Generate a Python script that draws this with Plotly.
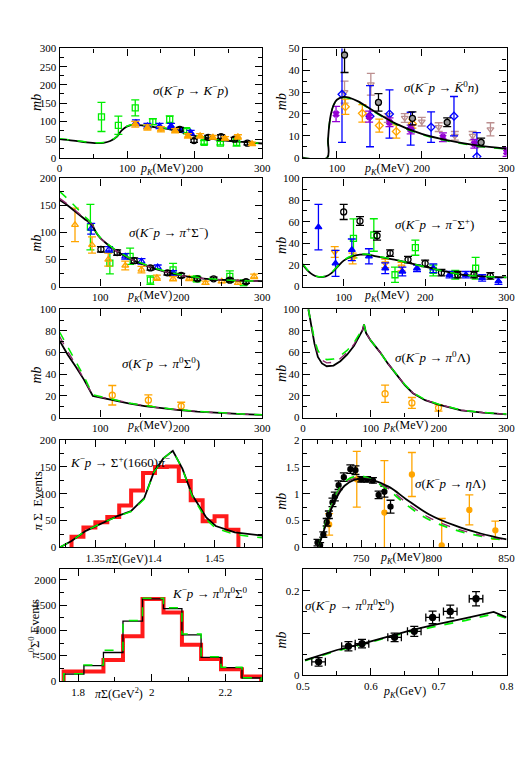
import plotly.graph_objects as go

FONT = "Liberation Serif"
W, H = 526, 761

# ---------------- data ----------------
# (a) K-p -> K-p
kp_x = [0, 20, 40, 55, 65, 75, 85, 92, 100, 110, 125, 140, 160, 180, 200, 220, 240, 260, 280, 300]
kp_black = [51, 47, 42, 40, 41, 46, 58, 75, 86, 90, 88, 84, 79, 70, 60, 54, 48, 45, 42, 39]
kp_green = [52, 48, 43, 41, 42, 47, 59, 76, 87, 91, 89, 85, 80, 71, 61, 55, 49, 45, 42, 39]
kp_sq_x = [62, 87, 112, 138, 163, 188, 214, 238, 262]
kp_sq_y = [112, 89, 137, 99, 105, 74, 42, 40, 42]
kp_sq_e = [40, 25, 22, 8, 10, 6, 5, 5, 10]
kp_bl_x = [113, 130, 148, 165, 178, 194]
kp_bl_y = [96, 87, 87, 87, 76, 69]
kp_bl_e = [8, 7, 7, 7, 6, 6]
kp_or_x = [112, 130, 150, 171, 190, 208, 227, 245, 264, 285]
kp_or_y = [92, 83, 78, 74, 60, 60, 56, 53, 57, 38]
kp_or_e = [8, 7, 7, 6, 6, 6, 5, 5, 6, 5]
kp_ci_x = [178, 199, 220, 239, 259, 278]
kp_ci_y = [78, 47, 56, 58, 51, 40]
kp_ci_e = [5, 5, 5, 5, 5, 5]

# (b) K-p -> K0bar n
k0_x = [60, 88.5, 89.5, 91, 93, 96, 100, 108, 115, 125, 143, 170, 200, 231, 265, 300]
k0_black = [0, 0, 8, 15, 20, 24, 26.5, 27.8, 27.4, 25.8, 21.5, 15.5, 10.9, 7.9, 5.6, 4.1]
k0_green = [0, 0, 8, 15, 20, 24, 26.3, 27.5, 27.1, 25.5, 21.2, 15.2, 10.6, 7.6, 5.4, 3.9]
k0_ci_x = [109, 149, 189, 230, 270]
k0_ci_y = [47, 25.3, 18, 16.2, 7]
k0_ci_e = [8, 4, 3, 2, 2]
k0_di_x = [106, 139, 162, 187, 211, 238, 265]
k0_di_y = [29, 19, 20, 13.3, 14, 19, 0.5]
k0_di_e = [22, 14, 11, 7.5, 7, 9, 11]
k0_od_x = [110, 130, 150, 170, 189]
k0_od_y = [23.3, 20.3, 14.7, 12, 15.5]
k0_od_e = [3.5, 4, 3, 3, 2]
k0_pu_x = [99, 138, 162, 187, 225, 262, 300]
k0_pu_y = [20, 18.8, 16.2, 12.9, 9.4, 6.4, 2.6]
k0_pu_e = [3.5, 2.5, 2, 2, 2, 2, 2]
k0_td_x = [109, 140, 160, 180, 200, 220, 239, 260, 281]
k0_td_y = [30, 33.6, 18.2, 18.2, 16.5, 14, 10, 10, 13]
k0_td_e = [5, 5, 2, 2, 2, 2, 2, 2, 3]

# (c) K-p -> pi+ Sigma-
ps_x = [50, 60, 70, 80, 90, 95, 100, 110, 120, 135, 150, 170, 190, 210, 235, 260, 300]
ps_black = [160, 150, 138, 126, 114, 100, 90, 77, 66, 53, 43, 32, 24, 18, 14, 12, 10]
ps_purple = [163, 152, 140, 127, 115, 100, 90, 77, 66, 53, 43, 32, 24, 18, 14, 12, 10]
ps_green = [176, 162, 147, 131, 116, 101, 91, 78, 67, 54, 44, 33, 25, 19, 14.5, 12, 10]
ps_ci_x = [101, 121, 142, 162, 183, 200, 220, 240, 260, 280]
ps_ci_y = [69, 63, 48, 34.5, 25.5, 20.6, 14.5, 14.5, 12, 9]
ps_ci_e = [5, 5, 5, 4, 4, 4, 3, 3, 3, 3]
ps_bl_x = [89, 111, 131, 151, 171, 190]
ps_bl_y = [107, 69, 56, 46.7, 36, 25.5]
ps_bl_e = [10, 5, 5, 5, 4, 4]
ps_sq_x = [88, 112, 137, 162, 190, 219, 260, 277]
ps_sq_y = [110, 43.6, 56, 12, 31, 14.5, 19, 7]
ps_sq_e = [42, 20, 15, 8, 12, 5, 10, 4]
ps_or_x = [69, 90, 110, 131, 151, 170, 190, 210, 230, 250, 270, 290]
ps_or_y = [114, 77, 50, 39, 31.5, 16.4, 14.5, 15, 7, 10, 7, 19]
ps_or_e = [31, 15, 12, 8, 6, 5, 4, 4, 3, 3, 3, 4]

# (d) K-p -> pi- Sigma+
ms_x = [50, 55, 60, 65, 71, 78, 85, 92, 100, 110, 120, 130, 140, 165, 185, 205, 225, 245, 270, 300]
ms_black = [20, 15.5, 12, 9.8, 8.8, 9.5, 12.5, 18, 24, 28, 29.5, 29.5, 28, 24.5, 21, 17.5, 14, 11, 9.5, 8.6]
ms_green = [21, 16, 12.3, 10, 9, 9.8, 13, 18.5, 24.5, 28.5, 30, 30, 28.3, 24.6, 21, 17.4, 13.9, 11, 9.5, 8.5]
ms_bl_x = [69, 90, 110, 131, 151, 172, 190, 210, 230, 250, 270, 290]
ms_bl_y = [55, 21.5, 34, 28, 17, 14, 17, 17, 11, 11, 8, 5]
ms_bl_e = [21, 12, 10, 7, 5, 4, 3, 4, 3, 3, 3, 3]
ms_ci_x = [100, 120, 141, 157, 179, 200, 220, 240, 260, 280]
ms_ci_y = [69, 60.6, 47, 31, 25, 21.5, 13, 11, 11, 10]
ms_ci_e = [7, 4, 4, 3, 3, 3, 3, 3, 3, 3]
ms_sq_x = [112, 137, 163, 188, 210, 237, 262]
ms_sq_y = [44.6, 47.7, 11, 36, 15, 11, 17]
ms_sq_e = [18, 15, 7, 7, 5, 4, 10]
ms_or_x = [89, 111, 151, 171]
ms_or_y = [32, 26, 21.5, 18.5]
ms_or_e = [5, 5, 4, 4]

# (e) K-p -> pi0 Sigma0
zs_x = [50, 60, 70, 80, 91, 100, 115, 135, 155, 175, 195, 220, 250, 275, 300]
zs_black = [71, 58, 47, 35, 20, 18.5, 16.5, 13, 10.5, 8.5, 7, 5.5, 4, 3.2, 2.4]
zs_purple = [75, 61, 49, 36, 20.5, 19, 16.8, 13.2, 10.7, 8.7, 7.1, 5.6, 4.1, 3.2, 2.4]
zs_green = [79, 65, 52, 38, 21, 19.5, 17.2, 13.5, 11, 9, 7.3, 5.7, 4.2, 3.3, 2.5]
zs_or_x = [115, 159.5, 200]
zs_or_y = [20.6, 16, 10.6]
zs_or_e = [9, 5, 3.5]

# (f) K-p -> pi0 Lambda
zl_x = [8, 12, 17, 22, 28, 35, 45, 55, 65, 75, 83, 88, 90, 93, 100, 114, 125, 138, 150, 162, 180, 200, 233, 265, 300]
zl_black = [100, 84, 68, 56, 50, 47.4, 48, 52, 58, 66, 75, 81, 86, 78, 71, 60, 50, 40, 30, 22.5, 16, 12, 6.7, 4.5, 3]
zl_purple = [100, 85, 70, 59, 53, 50.5, 51, 54.5, 60, 67.5, 76, 81.5, 86, 78, 71, 60, 50, 40, 30, 22.7, 16.2, 12.1, 6.8, 4.6, 3.1]
zl_green = [100, 86, 72, 62, 56, 53.5, 54, 57, 62, 69, 77, 82, 86, 78, 71, 60, 50, 40, 30.5, 23, 16.5, 12.3, 7, 4.7, 3.2]
zl_or_x = [121, 160.5, 199.7]
zl_or_y = [22, 13.5, 9]
zl_or_e = [8, 5, 3]

# (g) Sigma+(1660) pi- spectrum
sg_edges = [1.33, 1.34, 1.35, 1.36, 1.37, 1.38, 1.39, 1.40, 1.41, 1.42, 1.43, 1.44, 1.45, 1.46, 1.47]
sg_counts = [20, 37, 47, 57, 78, 106, 139, 150, 151, 124, 88, 49, 58, 33]
sg_x = [1.32, 1.33, 1.342, 1.356, 1.369, 1.38, 1.391, 1.399, 1.407, 1.415, 1.423, 1.431, 1.443, 1.451, 1.467, 1.49]
sg_black = [0, 12, 31, 46, 59, 68, 92, 140, 166, 180, 147, 99, 56, 40, 28, 22]
sg_green = [0, 12, 31, 46, 58, 67, 90, 140, 166, 180, 147, 97, 52, 36, 24, 18]

# (h) K-p -> eta Lambda
el_x = [720.7, 723, 725.2, 728, 731.9, 735, 738.6, 745.2, 751.9, 758.6, 769.8, 780.9, 796.5, 814.3, 832.2, 850]
el_black = [0.02, 0.2, 0.38, 0.62, 0.86, 1.02, 1.15, 1.26, 1.28, 1.25, 1.12, 0.90, 0.62, 0.41, 0.26, 0.15]
el_purple = [0.02, 0.21, 0.40, 0.65, 0.89, 1.06, 1.19, 1.29, 1.30, 1.24, 1.08, 0.84, 0.56, 0.36, 0.23, 0.14]
el_green = [0.02, 0.22, 0.42, 0.67, 0.92, 1.09, 1.22, 1.32, 1.32, 1.24, 1.05, 0.80, 0.52, 0.33, 0.21, 0.13]
el_ci_x = [720, 721.8, 724, 726.3, 727.8, 730.3, 731.9, 734.5, 738.1, 742.6, 746.1, 750.1, 754.1, 758.1, 762, 766, 770.2]
el_ci_y = [0.09, 0.04, 0.24, 0.47, 0.61, 0.84, 0.95, 1.16, 1.31, 1.46, 1.44, 1.27, 1.27, 1.25, 0.98, 1.04, 0.76]
el_ci_e = [0.06, 0.05, 0.05, 0.07, 0.07, 0.08, 0.08, 0.08, 0.08, 0.08, 0.08, 0.05, 0.05, 0.05, 0.07, 0.1, 0.12]
el_or_x = [728, 747, 766, 784.9, 805.4, 824.4, 842.3]
el_or_y = [0.43, 1.27, 0.65, 1.36, 0.04, 0.70, 0.32]
el_or_e = [0.2, 0.52, 0.97, 0.41, 0.5, 0.28, 0.17]

# (i) pi0 pi0 Sigma0 spectrum
pp_edges = [1.761, 1.816, 1.869, 1.922, 1.975, 2.032, 2.082, 2.134, 2.188, 2.245, 2.297]
pp_red = [194, 194, 420, 890, 1625, 1355, 722, 439, 239, 97]
pp_black = [142, 310, 568, 1187, 1625, 1432, 916, 471, 271, 65]
pp_green = [150, 320, 613, 1200, 1640, 1451, 935, 484, 277, 70]

# (j) K-p -> pi0 pi0 Sigma0 cross section
pz_x = [0.503, 0.55, 0.588, 0.62, 0.66, 0.69, 0.712, 0.74, 0.781, 0.8]
pz_black = [0.036, 0.060, 0.075, 0.090, 0.107, 0.118, 0.125, 0.135, 0.150, 0.137]
pz_green = [0.035, 0.058, 0.073, 0.088, 0.104, 0.114, 0.120, 0.130, 0.145, 0.135]
pz_dx = [0.523, 0.567, 0.587, 0.635, 0.664, 0.691, 0.717, 0.755]
pz_dy = [0.032, 0.069, 0.075, 0.090, 0.104, 0.137, 0.151, 0.181]
pz_ey = [0.010, 0.011, 0.010, 0.010, 0.012, 0.015, 0.015, 0.017]
pz_ex = [0.01, 0.01, 0.01, 0.01, 0.01, 0.01, 0.01, 0.01]

# ---------------- figure ----------------
GREEN = "#00ee00"
BLUE = "#0000ff"
ORANGE = "#ffa500"
PURPLE = "#9400d3"
ROSY = "#bc8f8f"
MAROON = "#8b2a6a"

fig = go.Figure()


def curve(n, x, y, color="black", dash="solid", width=1.8, shape="spline"):
    fig.add_trace(go.Scatter(x=x, y=y, mode="lines", xaxis="x%d" % n, yaxis="y%d" % n,
                             line=dict(color=color, dash=dash, width=width, shape=shape),
                             showlegend=False, hoverinfo="skip"))


def pts(n, x, y, e, color, symbol, size=6, ex=None, fill=None):
    m = dict(color=fill if fill else color, symbol=symbol, size=size,
             line=dict(color=color, width=1.3))
    tr = go.Scatter(x=x, y=y, mode="markers", xaxis="x%d" % n, yaxis="y%d" % n, marker=m,
                    error_y=dict(type="data", array=e, color=color, thickness=1.3, width=4),
                    showlegend=False, hoverinfo="skip")
    if ex is not None:
        tr.error_x = dict(type="data", array=ex, color=color, thickness=1.3, width=4)
    fig.add_trace(tr)


def steps(n, edges, vals, color, width, dash="solid"):
    xs = [edges[0]] + list(edges[:-1]) + [edges[-1], edges[-1]]
    ys = [0] + list(vals) + [vals[-1], 0]
    fig.add_trace(go.Scatter(x=xs, y=ys, mode="lines", xaxis="x%d" % n, yaxis="y%d" % n,
                             line=dict(color=color, width=width, shape="hv", dash=dash),
                             showlegend=False, hoverinfo="skip"))


# (1) K-p elastic
pts(1, kp_sq_x, kp_sq_y, kp_sq_e, GREEN, "square-open")
curve(1, kp_x, kp_black)
curve(1, kp_x, kp_green, GREEN, "dash", 1.5)
pts(1, kp_bl_x, kp_bl_y, kp_bl_e, BLUE, "triangle-up")
pts(1, kp_ci_x, kp_ci_y, kp_ci_e, "black", "circle-open")
pts(1, kp_or_x, kp_or_y, kp_or_e, ORANGE, "triangle-up")

# (2) K0bar n
pts(2, k0_td_x, k0_td_y, k0_td_e, ROSY, "triangle-down-open")
pts(2, k0_di_x, k0_di_y, k0_di_e, BLUE, "diamond-open")
pts(2, k0_od_x, k0_od_y, k0_od_e, ORANGE, "diamond-open")
pts(2, k0_pu_x, k0_pu_y, k0_pu_e, PURPLE, "x", size=5)
pts(2, k0_ci_x, k0_ci_y, k0_ci_e, "black", "circle", fill="#999999")
curve(2, k0_x, k0_green, GREEN, "dash", 1.5)
curve(2, k0_x, k0_black)

# (3) pi+ Sigma-
pts(3, ps_sq_x, ps_sq_y, ps_sq_e, GREEN, "square-open")
pts(3, ps_or_x, ps_or_y, ps_or_e, ORANGE, "triangle-up-open")
pts(3, ps_bl_x, ps_bl_y, ps_bl_e, BLUE, "triangle-up-open")
pts(3, ps_ci_x, ps_ci_y, ps_ci_e, "black", "circle-open")
curve(3, ps_x, ps_black)
curve(3, ps_x, ps_purple, MAROON, "dash", 1.3)
curve(3, ps_x, ps_green, GREEN, "dash", 1.5)

# (4) pi- Sigma+
pts(4, ms_sq_x, ms_sq_y, ms_sq_e, GREEN, "square-open")
pts(4, ms_or_x, ms_or_y, ms_or_e, ORANGE, "triangle-down-open")
pts(4, ms_ci_x, ms_ci_y, ms_ci_e, "black", "circle-open")
pts(4, ms_bl_x, ms_bl_y, ms_bl_e, BLUE, "triangle-up")
curve(4, ms_x, ms_black)
curve(4, ms_x, ms_green, GREEN, "dash", 1.5)

# (5) pi0 Sigma0
pts(5, zs_or_x, zs_or_y, zs_or_e, ORANGE, "circle-open")
curve(5, zs_x, zs_black, shape="linear")
curve(5, zs_x, zs_purple, MAROON, "dash", 1.3, shape="linear")
curve(5, zs_x, zs_green, GREEN, "dash", 1.5, shape="linear")

# (6) pi0 Lambda
pts(6, zl_or_x, zl_or_y, zl_or_e, ORANGE, "circle-open")
curve(6, zl_x, zl_black, shape="linear")
curve(6, zl_x, zl_purple, MAROON, "dash", 1.3, shape="linear")
curve(6, zl_x, zl_green, GREEN, "dash", 1.5, shape="linear")

# (7) Sigma(1660) spectrum
steps(7, sg_edges, sg_counts, "#ff1a1a", 4)
curve(7, sg_x, sg_black, shape="linear")
curve(7, sg_x, sg_green, GREEN, "dash", 1.5, shape="linear")

# (8) eta Lambda
pts(8, el_or_x, el_or_y, el_or_e, ORANGE, "circle", size=5)
pts(8, el_ci_x, el_ci_y, el_ci_e, "black", "circle", size=5)
curve(8, el_x, el_green, GREEN, "dash", 1.8)
curve(8, el_x, el_purple, MAROON, "dash", 1.3)
curve(8, el_x, el_black)

# (9) pi0 pi0 Sigma0 spectrum
steps(9, pp_edges, pp_red, "#ff1a1a", 4)
steps(9, pp_edges, pp_black, "black", 1.3)
steps(9, pp_edges, pp_green, GREEN, 1.5, "dash")

# (10) pi0 pi0 Sigma0 cross section
curve(10, pz_x, pz_green, GREEN, "dash", 1.8, shape="linear")
curve(10, pz_x, pz_black, shape="linear")
pts(10, pz_dx, pz_dy, pz_ey, "black", "circle", size=6, ex=pz_ex)

# ---------------- axes ----------------
colL = [46 / W, 255 / W]
colR = [297 / W, 507 / W]


def yd(top, bot):
    return [1 - bot / H, 1 - top / H]


tickfont = dict(family=FONT, size=11, color="black")


def ax(domain, rng, dtick, minor, anchor, **kw):
    d = dict(domain=domain, range=rng, dtick=dtick, anchor=anchor,
             showline=True, linecolor="black", linewidth=1.3, mirror="allticks",
             ticks="inside", ticklen=7, tickwidth=1.2, tickcolor="black",
             showgrid=False, zeroline=False, tickfont=tickfont,
             minor=dict(dtick=minor, ticks="inside", ticklen=4, tickwidth=1, tickcolor="black"))
    d.update(kw)
    return d


panels = [
    # n, col, (top, bottom), xrange, xdtick, xminor, yrange, ydtick, yminor
    (1, colL, (35, 146), [0, 300], 100, 50, [0, 300], 50, 25),
    (2, colR, (35, 146), [60, 300], 100, 50, [0, 50], 10, 5),
    (3, colL, (167, 277), [50, 300], 100, 50, [0, 200], 50, 25),
    (4, colR, (167, 277), [50, 300], 100, 50, [0, 100], 20, 10),
    (5, colL, (300, 410), [50, 300], 100, 50, [0, 100], 20, 10),
    (6, colR, (300, 410), [0, 300], 100, 50, [0, 100], 20, 10),
    (7, colL, (433, 542), [1.32, 1.49], 0.05, 0.025, [0, 200], 50, 25),
    (8, colR, (433, 542), [710, 850], 50, 10, [0, 2], 0.5, 0.25),
    (9, colL, (564, 678), [1.75, 2.3], 0.2, 0.1, [0, 2213], 500, 250),
    (10, colR, (564, 672), [0.5, 0.8], 0.1, 0.05, [0, 0.251], 0.1, 0.05),
]

layout = dict(width=W, height=H, margin=dict(l=0, r=0, t=0, b=0),
              plot_bgcolor="white", paper_bgcolor="white", showlegend=False)

for n, col, (top, bot), xr, xdt, xmi, yr, ydt, ymi in panels:
    sfx = "" if n == 1 else str(n)
    layout["xaxis" + sfx] = ax(col, xr, xdt, xmi, "y%d" % n)
    layout["yaxis" + sfx] = ax(yd(top, bot), yr, ydt, ymi, "x%d" % n)

layout["yaxis10"].update(tickvals=[0, 0.1, 0.2], ticktext=["0", "", "0.2"])

fig.update_layout(**layout)

# ---------------- text ----------------
pk = "<i>p<sub>K</sub></i>(MeV)"
mb = "<i>mb</i>"
labels = [
    # text, x px, y px, size, xanchor, angle
    (pk, 152, 157, 12, "center", 0),
    (pk, 383, 157, 12, "center", 0),
    (pk, 139, 287, 12, "center", 0),
    (pk, 383, 287, 12, "center", 0),
    (pk, 139, 419, 12, "center", 0),
    (pk, 403, 419, 12, "center", 0),
    ("<i>π</i>Σ(GeV)", 116, 554, 11.5, "center", 0),
    (pk, 400, 553, 12, "center", 0),
    ("<i>π</i>Σ(GeV<sup>2</sup>)", 107, 690, 12, "center", 0),
    ("<i>p<sub>K</sub></i>(GeV)", 402, 689, 12, "center", 0),
    (mb, 22, 90, 14, "center", -90),
    (mb, 275, 89, 14, "center", -90),
    (mb, 22, 233, 14, "center", -90),
    (mb, 275, 235, 14, "center", -90),
    (mb, 22, 367, 14, "center", -90),
    (mb, 275, 365, 14, "center", -90),
    ("<i>π</i> Σ  Events", 23, 495, 13, "center", -90),
    (mb, 275, 495, 14, "center", -90),
    ("<i>π</i><sup>0</sup>Σ<sup>0</sup> Events", 20, 624, 12.5, "center", -90),
    (mb, 275, 636, 14, "center", -90),
    ("<i>σ</i>(<i>K</i><sup>−</sup><i>p</i> → <i>K</i><sup>−</sup><i>p</i>)", 181, 77, 13, "center", 0),
    ("<i>σ</i>(<i>K</i><sup>−</sup><i>p</i> → <i>K\u0304</i><sup>0</sup><i>n</i>)", 440, 74, 13, "center", 0),
    ("<i>σ</i>(<i>K</i><sup>−</sup><i>p</i> → <i>π</i><sup>+</sup>Σ<sup>−</sup>)", 158, 221, 13, "center", 0),
    ("<i>σ</i>(<i>K</i><sup>−</sup><i>p</i> → <i>π</i><sup>−</sup>Σ<sup>+</sup>)", 433, 213, 13, "center", 0),
    ("<i>σ</i>(<i>K</i><sup>−</sup><i>p</i> → <i>π</i><sup>0</sup>Σ<sup>0</sup>)", 151, 355, 13, "center", 0),
    ("<i>σ</i>(<i>K</i><sup>−</sup><i>p</i> → <i>π</i><sup>0</sup>Λ)", 431, 348, 13, "center", 0),
    ("<i>K</i><sup>−</sup><i>p</i> → Σ<sup>+</sup>(1660)<i>π</i><sup>−</sup>", 55, 455, 13, "left", 0),
    ("<i>σ</i>(<i>K</i><sup>−</sup><i>p</i> → <i>η</i>Λ)", 449, 477, 13, "center", 0),
    ("<i>K</i><sup>−</sup><i>p</i> → <i>π</i><sup>0</sup><i>π</i><sup>0</sup>Σ<sup>0</sup>", 201, 588, 13, "center", 0),
    ("<i>σ</i>(<i>K</i><sup>−</sup><i>p</i> → <i>π</i><sup>0</sup><i>π</i><sup>0</sup>Σ<sup>0</sup>)", 345, 600, 13, "center", 0),
]

for text, x, y, size, xa, ang in labels:
    fig.add_annotation(text=text, x=x / W, y=1 - y / H, xref="paper", yref="paper",
                       xanchor=xa, yanchor="middle", showarrow=False, textangle=ang,
                       font=dict(family=FONT, size=size, color="black"))

fig.write_html("out.html")
